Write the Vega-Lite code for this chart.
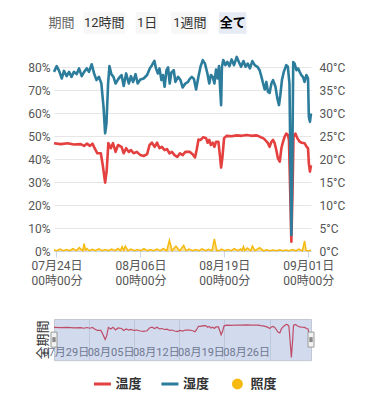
{
  "$schema": "https://vega.github.io/schema/vega-lite/v6.json",
  "padding": {"left": 27, "top": 12, "right": 0, "bottom": 0},
  "background": "white",
  "config": {
    "font": "Roboto, Noto Sans CJK JP",
    "view": {"stroke": null},
    "axis": {"labelFont": "Roboto, Noto Sans CJK JP", "titleFont": "Roboto, Noto Sans CJK JP"},
    "text": {"font": "Roboto, Noto Sans CJK JP"}
  },
  "datasets": {
    "buttons": [{"label": "期間"}, {"label": "12時間"}, {"label": "1日"}, {"label": "1週間"}, {"label": "全て"}],
    "legend": [{"s": "温度"}, {"s": "湿度"}, {"s": "照度"}],
    "handles": [{"t": "2024-07-23T15:00"}, {"t": "2024-09-01T10:00"}],
    "empty": [],
    "temp": [
      {"t": "2024-07-23T15:00", "v": 23.5}, {"t": "2024-07-24T16:00", "v": 23.3}, {"t": "2024-07-25T17:00", "v": 23.5},
      {"t": "2024-07-26T17:00", "v": 23.2}, {"t": "2024-07-27T18:00", "v": 23.3}, {"t": "2024-07-28T07:00", "v": 22.9},
      {"t": "2024-07-28T17:00", "v": 23.4}, {"t": "2024-07-29T05:00", "v": 22.9}, {"t": "2024-07-29T14:00", "v": 23.4},
      {"t": "2024-07-29T22:00", "v": 22.4}, {"t": "2024-07-30T08:00", "v": 21.3}, {"t": "2024-07-30T21:00", "v": 21.3},
      {"t": "2024-07-31T05:00", "v": 18.4}, {"t": "2024-07-31T13:00", "v": 14.9}, {"t": "2024-07-31T19:00", "v": 17.6},
      {"t": "2024-08-01T01:00", "v": 23.5}, {"t": "2024-08-01T10:00", "v": 22.4}, {"t": "2024-08-01T18:00", "v": 23.5},
      {"t": "2024-08-02T04:00", "v": 21.6}, {"t": "2024-08-02T13:00", "v": 23.1}, {"t": "2024-08-03T02:00", "v": 22.7},
      {"t": "2024-08-03T10:00", "v": 21.3}, {"t": "2024-08-03T19:00", "v": 22.4}, {"t": "2024-08-04T05:00", "v": 21.6},
      {"t": "2024-08-04T13:00", "v": 22.0}, {"t": "2024-08-04T23:00", "v": 21.3}, {"t": "2024-08-05T11:00", "v": 21.6},
      {"t": "2024-08-06T00:00", "v": 20.9}, {"t": "2024-08-06T12:00", "v": 20.7}, {"t": "2024-08-07T01:00", "v": 21.1},
      {"t": "2024-08-07T10:00", "v": 23.1}, {"t": "2024-08-07T19:00", "v": 23.6}, {"t": "2024-08-08T05:00", "v": 22.7},
      {"t": "2024-08-08T14:00", "v": 23.6}, {"t": "2024-08-08T23:00", "v": 22.4}, {"t": "2024-08-09T08:00", "v": 22.7},
      {"t": "2024-08-09T18:00", "v": 22.0}, {"t": "2024-08-10T03:00", "v": 22.2}, {"t": "2024-08-10T12:00", "v": 21.3},
      {"t": "2024-08-10T21:00", "v": 21.6}, {"t": "2024-08-11T07:00", "v": 20.9}, {"t": "2024-08-11T17:00", "v": 20.5},
      {"t": "2024-08-12T03:00", "v": 21.3}, {"t": "2024-08-12T13:00", "v": 20.9}, {"t": "2024-08-12T23:00", "v": 21.6},
      {"t": "2024-08-13T16:00", "v": 21.6}, {"t": "2024-08-14T02:00", "v": 21.1}, {"t": "2024-08-14T11:00", "v": 20.4},
      {"t": "2024-08-14T17:00", "v": 22.0}, {"t": "2024-08-15T00:00", "v": 24.3}, {"t": "2024-08-15T08:00", "v": 24.2},
      {"t": "2024-08-15T18:00", "v": 24.8}, {"t": "2024-08-16T04:00", "v": 24.6}, {"t": "2024-08-16T10:00", "v": 23.6},
      {"t": "2024-08-16T16:00", "v": 24.2}, {"t": "2024-08-16T22:00", "v": 23.1}, {"t": "2024-08-17T05:00", "v": 23.6},
      {"t": "2024-08-17T11:00", "v": 22.7}, {"t": "2024-08-17T17:00", "v": 23.8}, {"t": "2024-08-18T02:00", "v": 23.8},
      {"t": "2024-08-18T08:00", "v": 20.5}, {"t": "2024-08-18T12:00", "v": 18.2}, {"t": "2024-08-18T17:00", "v": 20.5},
      {"t": "2024-08-18T23:00", "v": 24.6}, {"t": "2024-08-19T09:00", "v": 25.1}, {"t": "2024-08-20T03:00", "v": 25.0},
      {"t": "2024-08-20T22:00", "v": 25.2}, {"t": "2024-08-21T16:00", "v": 25.1}, {"t": "2024-08-22T11:00", "v": 25.3},
      {"t": "2024-08-23T05:00", "v": 25.1}, {"t": "2024-08-23T22:00", "v": 25.2}, {"t": "2024-08-24T05:00", "v": 25.1},
      {"t": "2024-08-24T15:00", "v": 24.8}, {"t": "2024-08-25T00:00", "v": 24.6}, {"t": "2024-08-25T08:00", "v": 24.2},
      {"t": "2024-08-25T18:00", "v": 23.5}, {"t": "2024-08-26T00:00", "v": 22.7}, {"t": "2024-08-26T07:00", "v": 23.8},
      {"t": "2024-08-26T13:00", "v": 24.2}, {"t": "2024-08-26T19:00", "v": 23.5}, {"t": "2024-08-27T01:00", "v": 22.0},
      {"t": "2024-08-27T07:00", "v": 20.2}, {"t": "2024-08-27T14:00", "v": 19.5}, {"t": "2024-08-27T20:00", "v": 22.4},
      {"t": "2024-08-28T02:00", "v": 23.8}, {"t": "2024-08-28T08:00", "v": 24.9}, {"t": "2024-08-28T14:00", "v": 25.6},
      {"t": "2024-08-28T20:00", "v": 25.3}, {"t": "2024-08-29T00:00", "v": 24.2}, {"t": "2024-08-29T04:00", "v": 14.8},
      {"t": "2024-08-29T09:00", "v": 2.0}, {"t": "2024-08-29T14:00", "v": 14.8}, {"t": "2024-08-29T17:00", "v": 24.9},
      {"t": "2024-08-30T00:00", "v": 25.6}, {"t": "2024-08-30T07:00", "v": 24.6}, {"t": "2024-08-30T16:00", "v": 23.8},
      {"t": "2024-08-31T00:00", "v": 23.6}, {"t": "2024-08-31T10:00", "v": 23.5}, {"t": "2024-08-31T18:00", "v": 22.7},
      {"t": "2024-08-31T23:00", "v": 22.4}, {"t": "2024-09-01T02:00", "v": 19.1}, {"t": "2024-09-01T06:00", "v": 17.3},
      {"t": "2024-09-01T10:00", "v": 18.7}
    ],
    "hum": [
      {"t": "2024-07-23T15:00", "v": 78.1}, {"t": "2024-07-24T01:00", "v": 80.6}, {"t": "2024-07-24T10:00", "v": 78.5},
      {"t": "2024-07-24T20:00", "v": 75.2}, {"t": "2024-07-25T04:00", "v": 78.5}, {"t": "2024-07-25T14:00", "v": 76.2},
      {"t": "2024-07-25T23:00", "v": 78.1}, {"t": "2024-07-26T08:00", "v": 75.9}, {"t": "2024-07-26T17:00", "v": 78.1},
      {"t": "2024-07-27T03:00", "v": 77.1}, {"t": "2024-07-27T12:00", "v": 79.6}, {"t": "2024-07-27T22:00", "v": 76.2},
      {"t": "2024-07-28T07:00", "v": 78.1}, {"t": "2024-07-28T17:00", "v": 79.6}, {"t": "2024-07-29T01:00", "v": 78.1},
      {"t": "2024-07-29T11:00", "v": 81.4}, {"t": "2024-07-29T20:00", "v": 77.4}, {"t": "2024-07-30T05:00", "v": 74.5},
      {"t": "2024-07-30T14:00", "v": 75.9}, {"t": "2024-07-30T23:00", "v": 73.0}, {"t": "2024-07-31T07:00", "v": 62.8},
      {"t": "2024-07-31T13:00", "v": 51.3}, {"t": "2024-07-31T18:00", "v": 55.6}, {"t": "2024-08-01T00:00", "v": 73.0},
      {"t": "2024-08-01T05:00", "v": 80.6}, {"t": "2024-08-01T12:00", "v": 77.1}, {"t": "2024-08-01T20:00", "v": 75.9},
      {"t": "2024-08-02T04:00", "v": 73.0}, {"t": "2024-08-02T13:00", "v": 74.8}, {"t": "2024-08-02T20:00", "v": 75.9},
      {"t": "2024-08-03T02:00", "v": 76.7}, {"t": "2024-08-03T10:00", "v": 71.9}, {"t": "2024-08-03T19:00", "v": 77.4},
      {"t": "2024-08-04T05:00", "v": 73.0}, {"t": "2024-08-04T13:00", "v": 76.2}, {"t": "2024-08-04T21:00", "v": 73.7},
      {"t": "2024-08-05T06:00", "v": 77.1}, {"t": "2024-08-05T14:00", "v": 73.0}, {"t": "2024-08-06T00:00", "v": 74.8},
      {"t": "2024-08-06T12:00", "v": 75.2}, {"t": "2024-08-07T01:00", "v": 76.7}, {"t": "2024-08-07T11:00", "v": 79.6},
      {"t": "2024-08-07T19:00", "v": 81.0}, {"t": "2024-08-08T04:00", "v": 82.9}, {"t": "2024-08-08T10:00", "v": 79.6},
      {"t": "2024-08-08T17:00", "v": 77.4}, {"t": "2024-08-08T23:00", "v": 79.6}, {"t": "2024-08-09T06:00", "v": 74.5},
      {"t": "2024-08-09T12:00", "v": 76.7}, {"t": "2024-08-09T18:00", "v": 71.6}, {"t": "2024-08-10T01:00", "v": 78.8},
      {"t": "2024-08-10T07:00", "v": 80.0}, {"t": "2024-08-10T13:00", "v": 73.0}, {"t": "2024-08-10T19:00", "v": 77.7},
      {"t": "2024-08-11T04:00", "v": 78.8}, {"t": "2024-08-11T10:00", "v": 73.7}, {"t": "2024-08-11T20:00", "v": 75.9},
      {"t": "2024-08-12T05:00", "v": 74.5}, {"t": "2024-08-12T13:00", "v": 71.3}, {"t": "2024-08-12T23:00", "v": 73.0},
      {"t": "2024-08-13T09:00", "v": 73.7}, {"t": "2024-08-13T14:00", "v": 74.8}, {"t": "2024-08-13T23:00", "v": 75.9},
      {"t": "2024-08-14T07:00", "v": 75.0}, {"t": "2024-08-14T15:00", "v": 70.4}, {"t": "2024-08-15T00:00", "v": 76.2},
      {"t": "2024-08-15T08:00", "v": 80.6}, {"t": "2024-08-15T16:00", "v": 83.2}, {"t": "2024-08-16T00:00", "v": 81.7},
      {"t": "2024-08-16T09:00", "v": 77.4}, {"t": "2024-08-16T16:00", "v": 73.0}, {"t": "2024-08-16T22:00", "v": 76.7},
      {"t": "2024-08-17T05:00", "v": 75.9}, {"t": "2024-08-17T11:00", "v": 73.0}, {"t": "2024-08-17T17:00", "v": 79.1},
      {"t": "2024-08-17T23:00", "v": 75.2}, {"t": "2024-08-18T04:00", "v": 80.6}, {"t": "2024-08-18T08:00", "v": 71.6},
      {"t": "2024-08-18T12:00", "v": 63.6}, {"t": "2024-08-18T15:00", "v": 80.3}, {"t": "2024-08-18T20:00", "v": 83.2},
      {"t": "2024-08-19T04:00", "v": 81.0}, {"t": "2024-08-19T11:00", "v": 82.4}, {"t": "2024-08-19T19:00", "v": 80.6},
      {"t": "2024-08-20T03:00", "v": 83.5}, {"t": "2024-08-20T12:00", "v": 81.0}, {"t": "2024-08-20T22:00", "v": 84.6},
      {"t": "2024-08-21T06:00", "v": 82.4}, {"t": "2024-08-21T14:00", "v": 80.3}, {"t": "2024-08-21T23:00", "v": 82.8},
      {"t": "2024-08-22T07:00", "v": 80.3}, {"t": "2024-08-22T15:00", "v": 81.7}, {"t": "2024-08-22T23:00", "v": 79.6},
      {"t": "2024-08-23T08:00", "v": 82.8}, {"t": "2024-08-23T17:00", "v": 81.0}, {"t": "2024-08-24T03:00", "v": 80.3},
      {"t": "2024-08-24T11:00", "v": 78.8}, {"t": "2024-08-24T18:00", "v": 75.9}, {"t": "2024-08-25T00:00", "v": 73.0},
      {"t": "2024-08-25T06:00", "v": 70.4}, {"t": "2024-08-25T12:00", "v": 73.7}, {"t": "2024-08-25T18:00", "v": 69.4},
      {"t": "2024-08-26T00:00", "v": 68.9}, {"t": "2024-08-26T07:00", "v": 73.0}, {"t": "2024-08-26T13:00", "v": 74.5},
      {"t": "2024-08-26T22:00", "v": 71.6}, {"t": "2024-08-27T05:00", "v": 66.5}, {"t": "2024-08-27T11:00", "v": 63.6},
      {"t": "2024-08-27T16:00", "v": 67.9}, {"t": "2024-08-27T22:00", "v": 74.5}, {"t": "2024-08-28T05:00", "v": 78.1},
      {"t": "2024-08-28T14:00", "v": 81.0}, {"t": "2024-08-28T20:00", "v": 80.3}, {"t": "2024-08-29T02:00", "v": 73.0},
      {"t": "2024-08-29T05:00", "v": 44.0}, {"t": "2024-08-29T09:00", "v": 7.0}, {"t": "2024-08-29T13:00", "v": 44.0},
      {"t": "2024-08-29T16:00", "v": 82.4}, {"t": "2024-08-29T21:00", "v": 81.7}, {"t": "2024-08-30T04:00", "v": 78.8},
      {"t": "2024-08-30T10:00", "v": 79.6}, {"t": "2024-08-30T16:00", "v": 78.1}, {"t": "2024-08-30T22:00", "v": 76.7},
      {"t": "2024-08-31T04:00", "v": 75.9}, {"t": "2024-08-31T10:00", "v": 73.7}, {"t": "2024-08-31T17:00", "v": 76.7},
      {"t": "2024-08-31T23:00", "v": 75.2}, {"t": "2024-09-01T02:00", "v": 58.5}, {"t": "2024-09-01T06:00", "v": 56.3},
      {"t": "2024-09-01T10:00", "v": 60.0}
    ],
    "lux": [
      {"t": "2024-07-23T15:00", "v": 10}, {"t": "2024-07-24T02:00", "v": 3}, {"t": "2024-07-24T13:00", "v": 20},
      {"t": "2024-07-25T02:00", "v": 4}, {"t": "2024-07-25T13:00", "v": 15}, {"t": "2024-07-26T02:00", "v": 3},
      {"t": "2024-07-26T13:00", "v": 25}, {"t": "2024-07-27T02:00", "v": 4}, {"t": "2024-07-27T13:00", "v": 35},
      {"t": "2024-07-28T02:00", "v": 3}, {"t": "2024-07-28T07:00", "v": 76}, {"t": "2024-07-28T12:00", "v": 10},
      {"t": "2024-07-28T17:00", "v": 25}, {"t": "2024-07-29T02:00", "v": 3}, {"t": "2024-07-29T13:00", "v": 18},
      {"t": "2024-07-30T02:00", "v": 4}, {"t": "2024-07-30T13:00", "v": 22}, {"t": "2024-07-31T02:00", "v": 3},
      {"t": "2024-07-31T13:00", "v": 15}, {"t": "2024-08-01T02:00", "v": 3}, {"t": "2024-08-01T13:00", "v": 20},
      {"t": "2024-08-02T02:00", "v": 4}, {"t": "2024-08-02T13:00", "v": 25}, {"t": "2024-08-02T22:00", "v": 4},
      {"t": "2024-08-03T04:00", "v": 45}, {"t": "2024-08-03T10:00", "v": 8}, {"t": "2024-08-03T16:00", "v": 50},
      {"t": "2024-08-04T02:00", "v": 3}, {"t": "2024-08-04T13:00", "v": 20}, {"t": "2024-08-05T02:00", "v": 4},
      {"t": "2024-08-05T13:00", "v": 15}, {"t": "2024-08-06T02:00", "v": 3}, {"t": "2024-08-06T13:00", "v": 25},
      {"t": "2024-08-07T02:00", "v": 3}, {"t": "2024-08-07T13:00", "v": 15}, {"t": "2024-08-08T02:00", "v": 4},
      {"t": "2024-08-08T13:00", "v": 20}, {"t": "2024-08-09T02:00", "v": 3}, {"t": "2024-08-09T13:00", "v": 25},
      {"t": "2024-08-10T02:00", "v": 3}, {"t": "2024-08-10T12:00", "v": 110}, {"t": "2024-08-10T22:00", "v": 4},
      {"t": "2024-08-11T12:00", "v": 50}, {"t": "2024-08-12T02:00", "v": 3}, {"t": "2024-08-12T17:00", "v": 58},
      {"t": "2024-08-13T02:00", "v": 3}, {"t": "2024-08-13T13:00", "v": 20}, {"t": "2024-08-14T02:00", "v": 4},
      {"t": "2024-08-14T13:00", "v": 15}, {"t": "2024-08-15T02:00", "v": 3}, {"t": "2024-08-15T13:00", "v": 22},
      {"t": "2024-08-16T02:00", "v": 3}, {"t": "2024-08-16T13:00", "v": 18}, {"t": "2024-08-17T02:00", "v": 3},
      {"t": "2024-08-17T11:00", "v": 125}, {"t": "2024-08-17T20:00", "v": 4}, {"t": "2024-08-18T06:00", "v": 5},
      {"t": "2024-08-18T13:00", "v": 20}, {"t": "2024-08-19T02:00", "v": 3}, {"t": "2024-08-19T13:00", "v": 15},
      {"t": "2024-08-20T02:00", "v": 3}, {"t": "2024-08-20T13:00", "v": 25}, {"t": "2024-08-21T02:00", "v": 3},
      {"t": "2024-08-21T13:00", "v": 20}, {"t": "2024-08-21T18:00", "v": 4}, {"t": "2024-08-21T23:00", "v": 45},
      {"t": "2024-08-22T04:00", "v": 4}, {"t": "2024-08-22T13:00", "v": 30}, {"t": "2024-08-23T02:00", "v": 3},
      {"t": "2024-08-23T08:00", "v": 50}, {"t": "2024-08-23T18:00", "v": 3}, {"t": "2024-08-24T11:00", "v": 35},
      {"t": "2024-08-25T02:00", "v": 2}, {"t": "2024-08-25T13:00", "v": 12}, {"t": "2024-08-26T02:00", "v": 2},
      {"t": "2024-08-26T13:00", "v": 10}, {"t": "2024-08-27T02:00", "v": 2}, {"t": "2024-08-27T13:00", "v": 12},
      {"t": "2024-08-28T02:00", "v": 2}, {"t": "2024-08-28T13:00", "v": 10}, {"t": "2024-08-29T02:00", "v": 2},
      {"t": "2024-08-29T13:00", "v": 15}, {"t": "2024-08-30T02:00", "v": 2}, {"t": "2024-08-30T13:00", "v": 20},
      {"t": "2024-08-31T02:00", "v": 2}, {"t": "2024-08-31T10:00", "v": 103}, {"t": "2024-08-31T16:00", "v": 4},
      {"t": "2024-09-01T02:00", "v": 3}, {"t": "2024-09-01T10:00", "v": 8}
    ]
  },
  "spacing": 0,
  "bounds": "flush",
  "vconcat": [
    {
      "width": 257,
      "height": 22,
      "data": {"name": "buttons"},
      "encoding": {
        "x": {"field": "label", "type": "nominal", "sort": null,
          "scale": {"type": "point", "domain": ["期間", "12時間", "1日", "1週間", "全て"], "padding": 1.418, "align": 0.0863},
          "axis": null}
      },
      "layer": [
        {
          "transform": [{"filter": "datum.label !== '期間'"}],
          "mark": {"type": "point", "filled": true, "opacity": 1, "strokeWidth": 0, "size": 1730},
          "encoding": {
            "shape": {"field": "label", "type": "nominal",
              "scale": {"domain": ["12時間", "1日", "1週間", "全て"],
                "range": ["M-1,-0.519H1V0.519H-1Z", "M-0.546,-0.519H0.546V0.519H-0.546Z", "M-0.897,-0.519H0.897V0.519H-0.897Z", "M-0.659,-0.519H0.659V0.519H-0.659Z"]},
              "legend": null},
            "color": {"condition": {"test": "datum.label === '全て'", "value": "#e6ebf5"}, "value": "#f7f7f7"}
          }
        },
        {
          "transform": [{"filter": "datum.label !== '全て'"}],
          "mark": {"type": "text", "fontSize": 13, "baseline": "middle"},
          "encoding": {
            "text": {"field": "label"},
            "color": {"condition": {"test": "datum.label === '期間'", "value": "#666666"}, "value": "#333333"}
          }
        },
        {
          "transform": [{"filter": "datum.label === '全て'"}],
          "mark": {"type": "text", "fontSize": 13, "fontWeight": "bold", "baseline": "middle", "color": "#000000"},
          "encoding": {"text": {"field": "label"}}
        }
      ]
    },
    {"width": 257, "height": 22, "data": {"name": "empty"}, "mark": "point"},
    {
      "width": 257,
      "height": 195,
      "encoding": {
        "x": {"field": "t", "type": "temporal",
          "scale": {"domain": [{"year": 2024, "month": 7, "date": 23, "hours": 15}, {"year": 2024, "month": 9, "date": 1, "hours": 10}]},
          "axis": {
            "values": [{"year": 2024, "month": 7, "date": 24}, {"year": 2024, "month": 8, "date": 6}, {"year": 2024, "month": 8, "date": 19}, {"year": 2024, "month": 9, "date": 1}],
            "labelExpr": "[timeFormat(datum.value, '%m月%d日'), timeFormat(datum.value, '%H時%M分')]",
            "grid": false, "domainColor": "#ccd6eb", "tickColor": "#ccd6eb", "tickSize": 6,
            "labelPadding": 3, "labelFontSize": 12, "labelColor": "#555555", "labelLineHeight": 15,
            "labelFlush": false, "labelOverlap": false, "title": null
          }
        }
      },
      "layer": [
        {
          "data": {"name": "temp"},
          "mark": {"type": "line", "color": "#e3403f", "strokeWidth": 2.6, "strokeJoin": "round"},
          "encoding": {
            "y": {"field": "v", "type": "quantitative",
              "scale": {"domain": [0, 42.5], "nice": false},
              "axis": {"orient": "right", "values": [0, 5, 10, 15, 20, 25, 30, 35, 40], "labelExpr": "datum.value + '°C'",
                "grid": false, "domain": false, "ticks": false, "labelPadding": 8, "labelFontSize": 12, "labelColor": "#555555", "title": null}}
          }
        },
        {
          "data": {"name": "hum"},
          "mark": {"type": "line", "color": "#2c7c9c", "strokeWidth": 2.6, "strokeJoin": "round"},
          "encoding": {
            "y": {"field": "v", "type": "quantitative",
              "scale": {"domain": [0, 85], "nice": false},
              "axis": {"orient": "left", "values": [0, 10, 20, 30, 40, 50, 60, 70, 80], "labelExpr": "datum.value + '%'",
                "grid": true, "gridColor": "#e6e6e6", "domain": false, "ticks": false, "labelPadding": 4, "labelFontSize": 12, "labelColor": "#555555", "title": null}}
          }
        },
        {
          "data": {"name": "lux"},
          "mark": {"type": "area", "color": "#f5b90f", "fillOpacity": 0.45, "line": {"color": "#f5b90f", "strokeWidth": 1.5}},
          "encoding": {
            "y": {"field": "v", "type": "quantitative", "scale": {"domain": [0, 2000], "nice": false}, "axis": null}
          }
        }
      ],
      "resolve": {"scale": {"y": "independent"}}
    },
    {"width": 257, "height": 67.3, "data": {"name": "empty"}, "mark": "point"},
    {
      "width": 257,
      "height": 41.2,
      "view": {"fill": "#d2daed", "stroke": "#c3c8d2"},
      "encoding": {
        "x": {"field": "t", "type": "temporal",
          "scale": {"domain": [{"year": 2024, "month": 7, "date": 23, "hours": 15}, {"year": 2024, "month": 9, "date": 1, "hours": 10}]},
          "axis": {
            "values": [{"year": 2024, "month": 7, "date": 29}, {"year": 2024, "month": 8, "date": 5}, {"year": 2024, "month": 8, "date": 12}, {"year": 2024, "month": 8, "date": 19}, {"year": 2024, "month": 8, "date": 26}],
            "format": "%m月%d日", "grid": true, "gridColor": "#bfc8da", "ticks": false, "tickSize": 0, "domain": false,
            "labelAlign": "right", "labelDx": -2, "labelBaseline": "middle", "labelPadding": -8,
            "labelFontSize": 11, "labelColor": "#6e7891", "labelFlush": false, "labelOverlap": false, "title": null
          }
        }
      },
      "layer": [
        {
          "data": {"name": "temp"},
          "mark": {"type": "line", "color": "#bf4d68", "strokeWidth": 1.2},
          "encoding": {
            "y": {"field": "v", "type": "quantitative", "scale": {"domain": [0, 29.5], "nice": false},
              "axis": {"title": "全期間", "labels": false, "ticks": false, "domain": false, "grid": false,
                "titlePadding": 5, "titleFontSize": 13, "titleFontWeight": "normal", "titleColor": "#333333"}}
          }
        },
        {
          "data": {"name": "handles"},
          "mark": {"type": "point", "shape": "M-0.4,-1H0.4V1H-0.4Z", "size": 225, "filled": true, "fill": "#f2f2f2", "stroke": "#999999", "strokeWidth": 1, "opacity": 1},
          "encoding": {"y": {"datum": 14.75, "type": "quantitative"}}
        },
        {
          "data": {"name": "handles"},
          "mark": {"type": "point", "shape": "M-0.12,-0.33V0.33M0.12,-0.33V0.33", "size": 225, "filled": false, "stroke": "#444444", "strokeWidth": 1, "opacity": 1},
          "encoding": {"y": {"datum": 14.75, "type": "quantitative"}}
        }
      ]
    },
    {"width": 257, "height": 12.8, "data": {"name": "empty"}, "mark": "point"},
    {
      "width": 257,
      "height": 20,
      "data": {"name": "legend"},
      "encoding": {
        "x": {"field": "s", "type": "nominal", "sort": null,
          "scale": {"type": "point", "domain": ["温度", "湿度", "照度"], "padding": 0.904, "align": 0.397},
          "axis": null}
      },
      "layer": [
        {
          "transform": [{"filter": "datum.s !== '照度'"}],
          "mark": {"type": "point", "shape": "M-1,0H1", "size": 289, "filled": false, "strokeWidth": 3, "opacity": 1},
          "encoding": {
            "color": {"field": "s", "type": "nominal", "scale": {"domain": ["温度", "湿度", "照度"], "range": ["#e3403f", "#2c7c9c", "#f5b90f"]}, "legend": null}
          }
        },
        {
          "transform": [{"filter": "datum.s === '照度'"}],
          "mark": {"type": "point", "shape": "circle", "size": 120, "filled": true, "opacity": 1},
          "encoding": {
            "color": {"field": "s", "type": "nominal", "scale": {"domain": ["温度", "湿度", "照度"], "range": ["#e3403f", "#2c7c9c", "#f5b90f"]}, "legend": null}
          }
        },
        {
          "mark": {"type": "text", "align": "left", "dx": 13, "baseline": "middle", "fontSize": 13, "fontWeight": "bold", "color": "#333333"},
          "encoding": {"text": {"field": "s"}}
        }
      ]
    }
  ]
}
